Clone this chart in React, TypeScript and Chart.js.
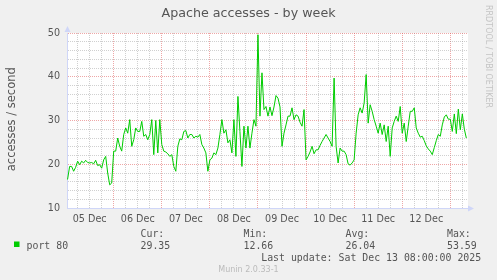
import React, { useEffect, useRef } from 'react';
import { Chart, registerables } from 'chart.js';

Chart.register(...registerables);

// ---- text ----
const chartTitle = 'Apache accesses - by week';
const yAxisTitle = 'accesses / second';
const watermark = 'RRDTOOL / TOBI OETIKER';
const footer = 'Munin 2.0.33-1';
const dayLabels = ['05 Dec', '06 Dec', '07 Dec', '08 Dec', '09 Dec', '10 Dec', '11 Dec', '12 Dec'];
const seriesName = 'port 80';
const statNames = ['Cur:', 'Min:', 'Avg:', 'Max:'];
const statValues = ['29.35', '12.66', '26.04', '53.59'];
const lastUpdate = 'Last update: Sat Dec 13 08:00:00 2025';

// ---- hourly accesses / second, one array per day (from 00:00) ----
const dec05 = [16.4, 16.6, 19.5, 19.5, 18.4, 19.3, 20.7, 19.9, 20.7, 20.3, 20.9, 20.4, 20.3, 20.4, 20.1, 20.9, 19.7, 19.9, 19.1, 21.0, 21.8, 18.0, 15.3, 15.7];
const dec06 = [23.0, 23.0, 26.0, 24.1, 23.0, 26.8, 28.3, 27.1, 30.2, 24.1, 25.6, 28.3, 27.5, 27.5, 29.8, 26.4, 26.8, 25.6, 26.8, 30.2, 22.2, 30.0, 22.6, 30.2];
const dec07 = [24.5, 23.0, 22.8, 22.4, 21.8, 22.2, 19.5, 18.4, 24.1, 25.8, 25.6, 27.5, 27.7, 26.0, 26.8, 26.8, 26.0, 26.4, 26.2, 26.8, 24.5, 23.7, 22.6, 18.4];
const dec08 = [21.0, 21.4, 22.6, 22.2, 23.7, 26.8, 30.2, 27.1, 27.9, 24.9, 25.6, 22.6, 30.2, 21.8, 35.5, 27.5, 19.5, 28.7, 23.7, 28.7, 23.7, 27.1, 30.2, 28.7];
const dec09 = [49.6, 31.0, 40.9, 32.5, 33.2, 31.0, 33.1, 31.1, 33.1, 35.7, 35.1, 33.1, 24.1, 27.1, 29.0, 31.0, 31.0, 32.9, 30.2, 31.3, 31.0, 29.6, 28.7, 32.5];
const dec10 = [21.0, 21.8, 22.8, 24.1, 22.4, 23.3, 23.3, 24.3, 25.2, 26.0, 26.8, 26.0, 25.2, 24.1, 39.7, 24.1, 20.3, 23.7, 23.0, 23.0, 22.2, 20.1, 19.8, 20.3];
const dec11 = [21.0, 27.1, 31.3, 32.9, 31.7, 34.0, 40.5, 29.4, 33.6, 32.1, 30.2, 28.7, 27.1, 29.4, 26.8, 29.0, 25.2, 28.7, 21.8, 28.3, 29.8, 31.0, 29.8, 33.2];
const dec12 = [27.1, 29.4, 25.2, 28.7, 32.1, 32.1, 32.9, 28.3, 27.1, 26.2, 26.4, 25.4, 24.2, 23.5, 23.0, 22.2, 23.8, 25.4, 26.8, 26.4, 29.0, 30.8, 31.3, 30.3];
const dec13 = [30.3, 27.5, 31.5, 27.0, 32.6, 27.9, 31.5, 28.0, 26.0];

const series = [...dec05, ...dec06, ...dec07, ...dec08, ...dec09, ...dec10, ...dec11, ...dec12, ...dec13];

// ---- axis settings ----
const yMin = 10;
const yMax = 50;
const yStep = 2;
const yLabelEvery = 10;
const hoursPerDay = 24;
const gridEveryHours = 6;
const xStart = 0.69;
const xEnd = 200.83;

// ---- styles ----
const FONT_COLOR = '#555555';
const MINOR_GRID = 'rgba(143,143,143,0.42)';
const MAJOR_GRID = 'rgba(222,79,79,0.5)';
const AXIS_COLOR = '#cfd6f8';
const LINE_COLOR = '#00cc00';
const SANS = '"DejaVu Sans", sans-serif';
const MONO = '"DejaVu Sans Mono", monospace';

const muninPlugin = {
  id: 'muninDecor',
  beforeDraw(chart: any) {
    const { ctx, chartArea: a, width, height } = chart;
    ctx.save();
    ctx.fillStyle = '#f0f0f0';
    ctx.fillRect(0, 0, width, height);
    ctx.fillStyle = '#ffffff';
    ctx.fillRect(a.left, a.top, a.right - a.left, a.bottom - a.top);
    ctx.restore();
  },
  afterDraw(chart: any) {
    const { ctx, chartArea: a, width } = chart;
    ctx.save();

    // axis arrows
    ctx.fillStyle = AXIS_COLOR;
    const ax = Math.round(a.left) + 0.5;
    ctx.beginPath();
    ctx.moveTo(ax - 3, a.top - 1);
    ctx.lineTo(ax + 3, a.top - 1);
    ctx.lineTo(ax, a.top - 7);
    ctx.closePath();
    ctx.fill();
    const ay = Math.round(a.bottom) + 0.5;
    ctx.beginPath();
    ctx.moveTo(a.right, ay - 3);
    ctx.lineTo(a.right, ay + 3);
    ctx.lineTo(a.right + 6, ay);
    ctx.closePath();
    ctx.fill();

    // title
    ctx.fillStyle = FONT_COLOR;
    ctx.font = `12.7px ${SANS}`;
    ctx.textAlign = 'center';
    ctx.textBaseline = 'alphabetic';
    ctx.fillText(chartTitle, width / 2, 17.3);

    // y axis title
    ctx.save();
    ctx.font = `11.5px ${SANS}`;
    ctx.translate(15, (a.top + a.bottom) / 2 - 1.3);
    ctx.rotate(-Math.PI / 2);
    ctx.textAlign = 'center';
    ctx.fillText(yAxisTitle, 0, 0);
    ctx.restore();

    // watermark
    ctx.save();
    ctx.fillStyle = '#c4c4c4';
    ctx.font = `8px ${SANS}`;
    ctx.translate(485.5, 5);
    ctx.rotate(Math.PI / 2);
    ctx.textAlign = 'left';
    ctx.fillText(watermark, 0, 0);
    ctx.restore();

    // legend
    ctx.fillStyle = LINE_COLOR;
    ctx.fillRect(14, 241.5, 5.5, 5.5);
    ctx.fillStyle = FONT_COLOR;
    ctx.font = `9.9px ${MONO}`;
    ctx.textAlign = 'left';
    ctx.fillText(seriesName, 26.5, 248.7);
    const statX = [140.5, 243.5, 345.5, 447];
    statNames.forEach((n, i) => {
      ctx.fillText(n, statX[i], 236.7);
      ctx.fillText(statValues[i], statX[i], 248.7);
    });
    ctx.fillText(lastUpdate, 261.2, 260.7);

    // footer
    ctx.fillStyle = '#bbbbbb';
    ctx.font = `8px ${SANS}`;
    ctx.textAlign = 'center';
    ctx.fillText(footer, width / 2, 272);

    ctx.restore();
  },
};

export default function App() {
  const canvasRef = useRef<HTMLCanvasElement | null>(null);

  useEffect(() => {
    const canvas = canvasRef.current;
    if (!canvas) return;
    const chart = new Chart(canvas, {
      type: 'line',
      data: {
        datasets: [
          {
            label: seriesName,
            data: series.map((v, i) => ({ x: i, y: v })),
            borderColor: LINE_COLOR,
            borderWidth: 1,
            pointRadius: 0,
            tension: 0,
            fill: false,
          },
        ],
      },
      options: {
        responsive: false,
        animation: false,
        events: [],
        layout: { padding: { left: 0, top: 33, right: 29, bottom: 0 } },
        plugins: {
          legend: { display: false },
          title: { display: false },
          tooltip: { enabled: false },
        },
        scales: {
          x: {
            type: 'linear',
            min: xStart,
            max: xEnd,
            offset: false,
            afterBuildTicks: (scale: any) => {
              const ticks: any[] = [];
              for (let h = gridEveryHours; h < xEnd; h += gridEveryHours) ticks.push({ value: h });
              scale.ticks = ticks;
            },
            afterFit: (scale: any) => {
              scale.height = 72;
            },
            ticks: {
              autoSkip: false,
              maxRotation: 0,
              minRotation: 0,
              padding: 5.5,
              color: FONT_COLOR,
              font: { family: SANS, size: 9.6 },
              callback: (value: any) => {
                const v = Number(value);
                if ((v - hoursPerDay / 2) % hoursPerDay === 0) {
                  return dayLabels[(v - hoursPerDay / 2) / hoursPerDay] ?? '';
                }
                return '';
              },
            },
            grid: {
              drawTicks: false,
              lineWidth: 1,
              color: (c: any) =>
                c.tick && c.tick.value % hoursPerDay === 0 ? MAJOR_GRID : MINOR_GRID,
            },
            border: { display: true, color: AXIS_COLOR, width: 1, dash: [1, 1] },
          },
          y: {
            type: 'linear',
            min: yMin,
            max: yMax,
            afterFit: (scale: any) => {
              scale.width = 67;
            },
            ticks: {
              stepSize: yStep,
              autoSkip: false,
              padding: 7,
              color: FONT_COLOR,
              font: { family: SANS, size: 9.6 },
              callback: (value: any) => (Number(value) % yLabelEvery === 0 ? String(value) : ''),
            },
            grid: {
              drawTicks: false,
              lineWidth: 1,
              color: (c: any) => {
                if (!c.tick) return MINOR_GRID;
                if (c.tick.value === yMin) return 'rgba(0,0,0,0)';
                return c.tick.value % yLabelEvery === 0 ? MAJOR_GRID : MINOR_GRID;
              },
            },
            border: { display: true, color: AXIS_COLOR, width: 1, dash: [1, 1] },
          },
        },
      },
      plugins: [muninPlugin],
    } as any);
    return () => chart.destroy();
  }, []);

  return (
    <div style={{ position: 'fixed', left: 0, top: 0, width: 497, height: 280 }}>
      <canvas ref={canvasRef} width={497} height={280} />
    </div>
  );
}
